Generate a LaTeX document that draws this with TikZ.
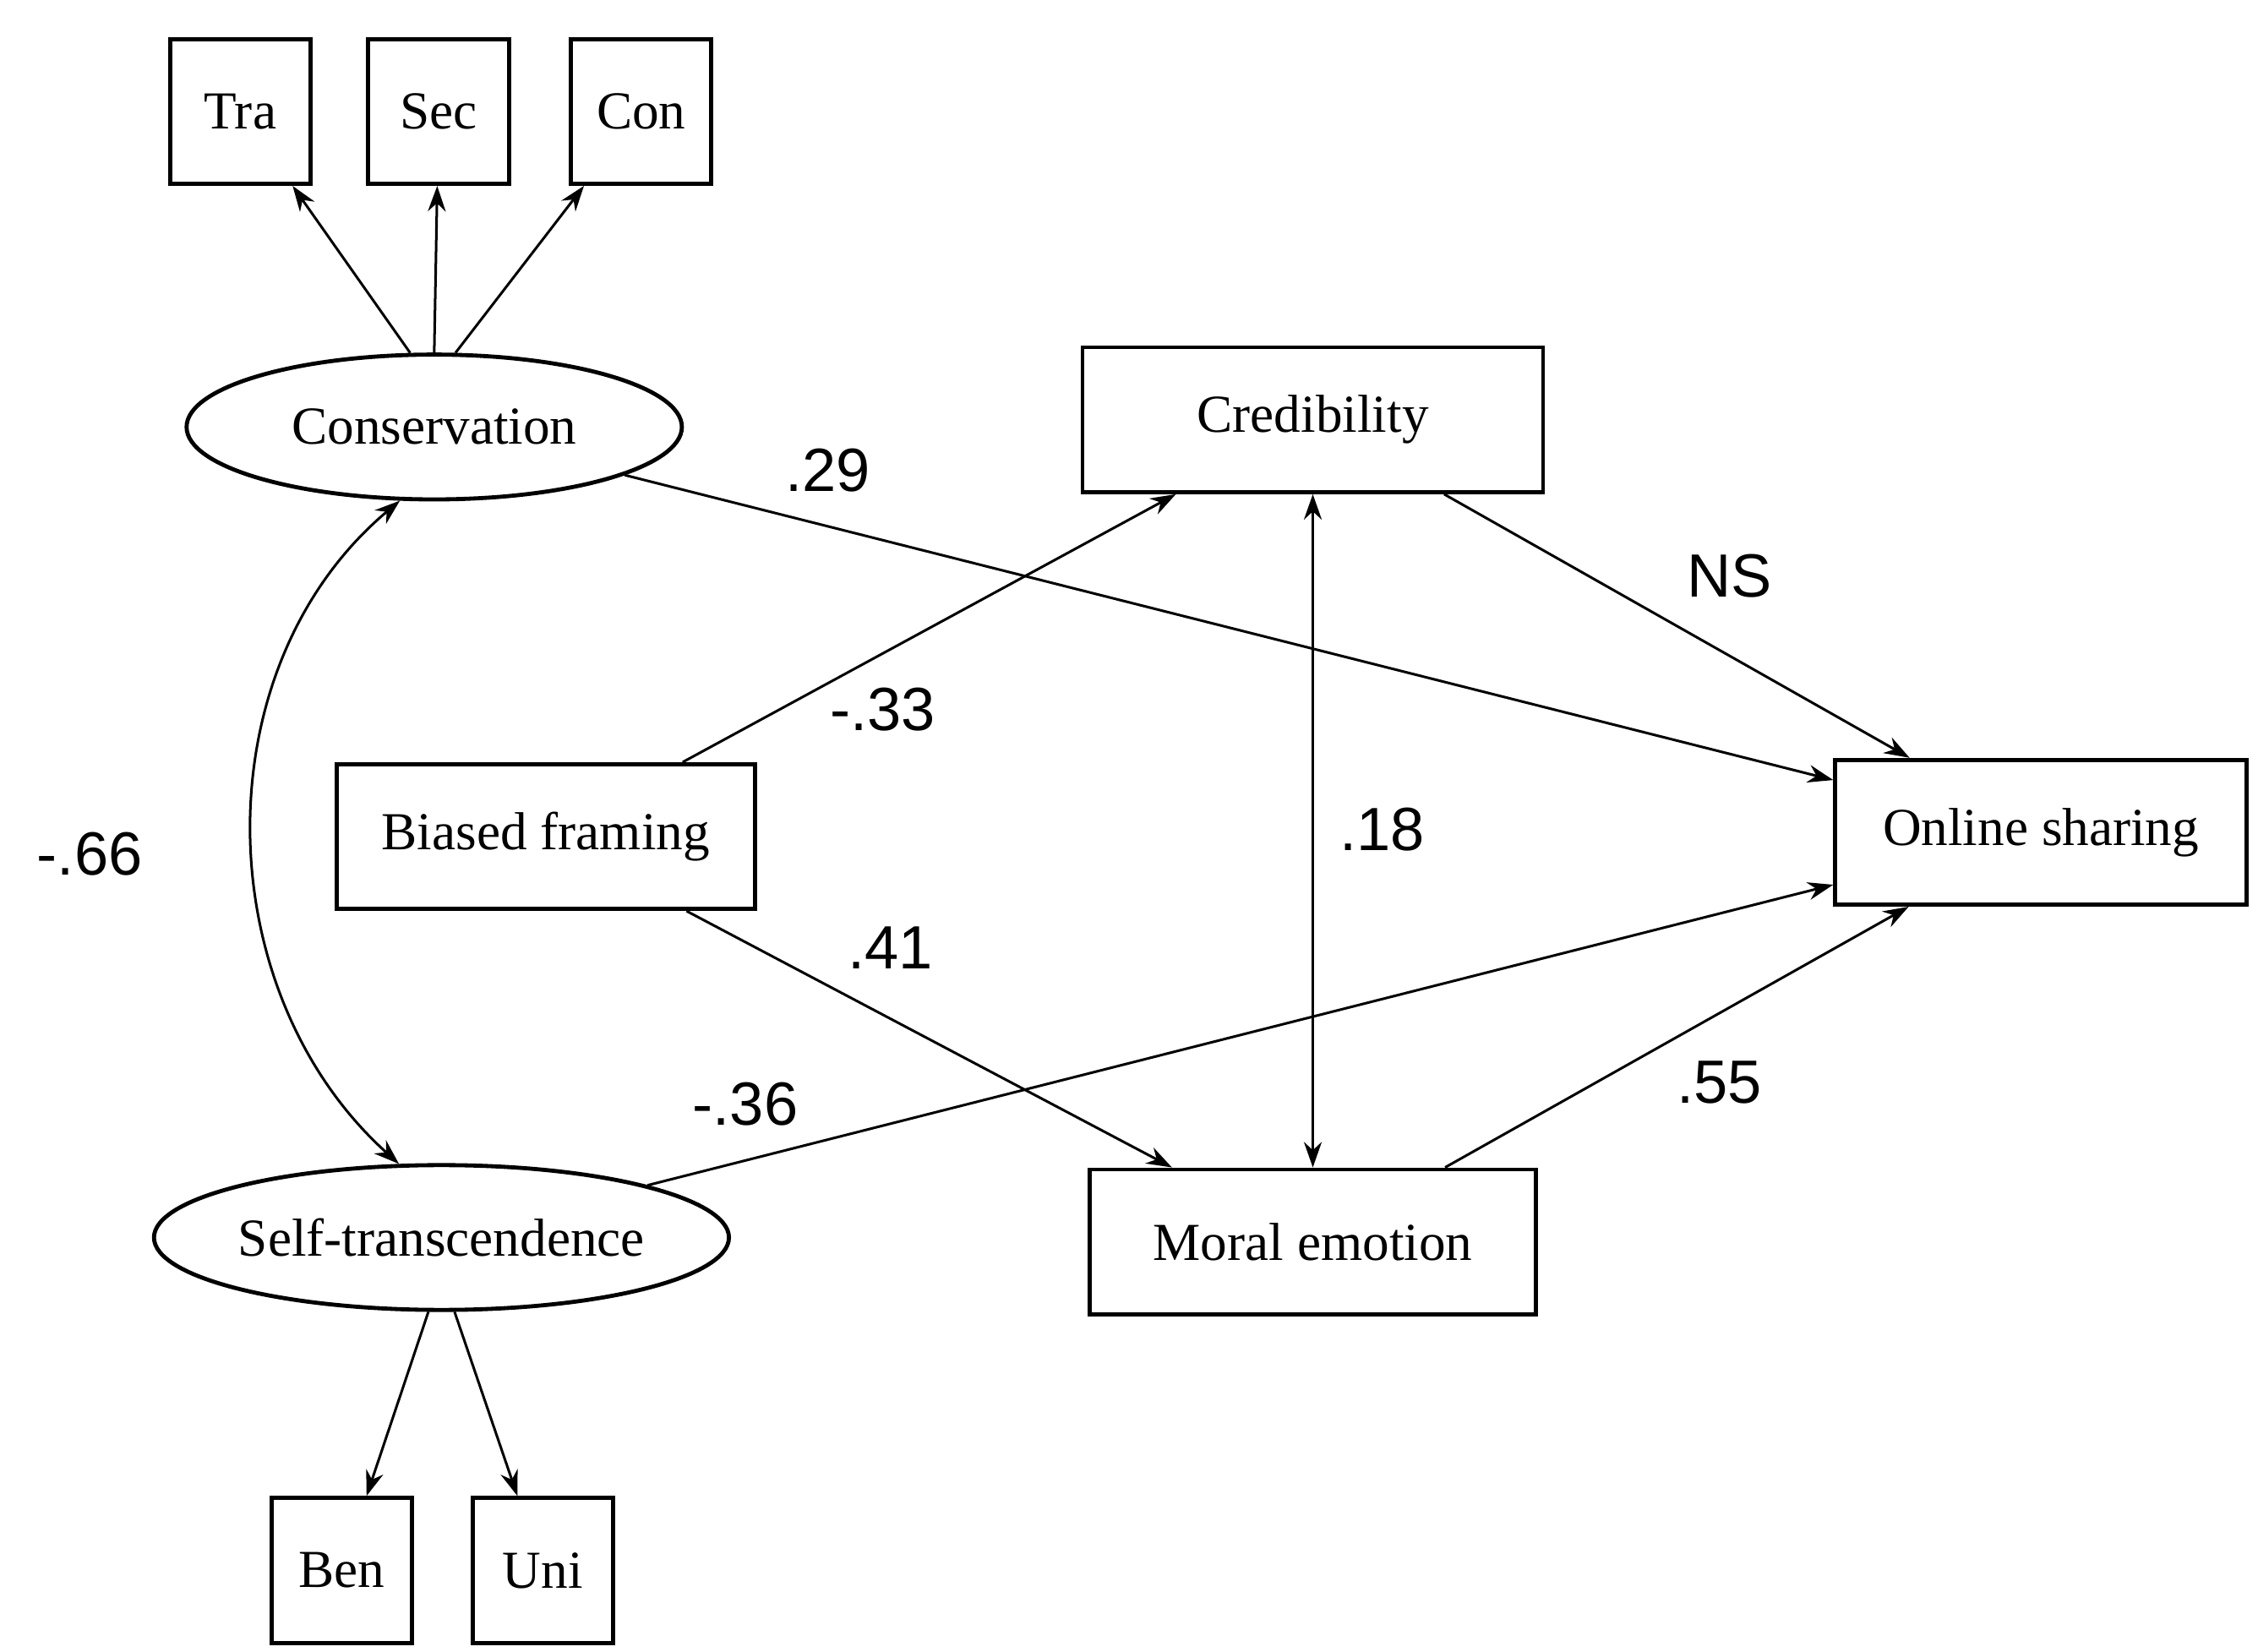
\documentclass[tikz,border=0pt]{standalone}
\usepackage{fontspec}
\setmainfont{Liberation Serif}
\newfontfamily\lab{Liberation Sans}
\usetikzlibrary{shapes.geometric,arrows.meta}
\begin{document}
\begin{tikzpicture}[x=0.01cm,y=-0.01cm,
  box/.style={draw,line width=0.8pt,minimum height=1cm,font=\fontsize{10.5}{12}\selectfont,inner sep=0pt},
  lat/.style={draw,ellipse,line width=0.8pt,minimum height=1cm,font=\fontsize{10.5}{12}\selectfont,inner sep=0pt},
  arr/.style={-{Stealth[length=5pt,width=3.5pt]},line width=0.5pt},
  lbl/.style={font=\lab\fontsize{12}{14}\selectfont}]
\useasboundingbox (0,0) rectangle (1560,1141);
\node[box,minimum width=0.97cm] (tra) at (166,77) {Tra};
\node[box,minimum width=0.97cm] (sec) at (303,77) {Sec};
\node[box,minimum width=0.97cm] (con) at (443,77) {Con};
\node[lat,minimum width=3.42cm] (cons) at (300,295) {Conservation};
\node[box,minimum width=3.18cm] (cred) at (907,290) {Credibility};
\node[box,minimum width=2.89cm] (bias) at (377,578) {Biased framing};
\node[box,minimum width=2.84cm] (onl) at (1410,575) {Online sharing};
\node[box,minimum width=3.08cm] (mor) at (907,858) {Moral emotion};
\node[lat,minimum width=3.55cm] (self) at (305,855) {Self-transcendence};
\node[box,minimum width=0.97cm] (ben) at (236,1085) {Ben};
\node[box,minimum width=0.97cm] (uni) at (375,1085) {Uni};
\draw[arr] (cons.108) -- (tra);
\draw[arr] (cons.north) -- (sec);
\draw[arr] (cons.74) -- (con);
\draw[arr] (self.-100) -- (ben);
\draw[arr] (self.-80) -- (uni);
\draw[arr] (cons) -- (onl);
\draw[arr] (self) -- (onl);
\draw[arr] (bias) -- (cred);
\draw[arr] (bias) -- (mor);
\draw[arr] (cred) -- (onl);
\draw[arr] (mor) -- (onl);
\draw[arr,{Stealth[length=5pt,width=3.5pt]}-{Stealth[length=5pt,width=3.5pt]}] (cred) -- (mor);
\draw[arr,{Stealth[length=5pt,width=3.5pt]}-{Stealth[length=5pt,width=3.5pt]}] (cons.245) to[out=220,in=138] (self.120);
\node[lbl] (l1) at (572,325) {.29};
\node[lbl] (l2) at (1195,398) {NS};
\node[lbl] (l3) at (610,490) {-.33};
\node[lbl] (l4) at (955,573) {.18};
\node[lbl] (l5) at (615,655) {.41};
\node[lbl] (l6) at (515,763) {-.36};
\node[lbl] (l7) at (1188,748) {.55};
\node[lbl] (l8) at (62,590) {-.66};
\end{tikzpicture}
\end{document}
